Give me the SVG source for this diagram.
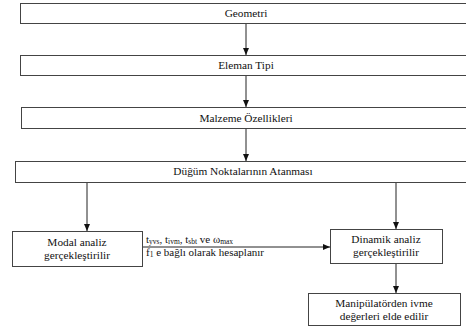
<svg xmlns="http://www.w3.org/2000/svg" width="466" height="331" viewBox="0 0 466 331">
<style>
.box{fill:#fff;stroke:#444;stroke-width:1}
.t{font-family:'Liberation Serif','Times New Roman','DejaVu Serif',serif;font-size:11.3px;fill:#111;text-anchor:middle}
.l{font-family:'Liberation Serif','Times New Roman','DejaVu Serif',serif;font-size:11px;fill:#111}
.s{font-size:7.5px}
.c{stroke:#222;stroke-width:1;fill:none;marker-end:url(#ah)}
</style>
<defs>
<marker id="ah" markerWidth="8" markerHeight="8" refX="7" refY="4" orient="auto" markerUnits="userSpaceOnUse">
<path d="M0,1 L7,4 L0,7 Z" fill="#111"/>
</marker>
</defs>
<rect width="466" height="331" fill="#fff"/>
<g id="connectors">
<line class="c" x1="246" y1="23" x2="246" y2="55"/>
<line class="c" x1="246" y1="75" x2="246" y2="107"/>
<line class="c" x1="246" y1="128" x2="246" y2="161"/>
<line class="c" x1="87" y1="182" x2="87" y2="231"/>
<line class="c" x1="396" y1="182" x2="396" y2="229"/>
<line class="c" x1="142" y1="247" x2="330" y2="247"/>
<line class="c" x1="396" y1="263" x2="396" y2="293"/>
<text class="l" x="146" y="243">t<tspan class="s" dy="1">yvs</tspan><tspan dy="-1">, t</tspan><tspan class="s" dy="1">ivm</tspan><tspan dy="-1">, t</tspan><tspan class="s" dy="1">sbt</tspan><tspan dy="-1"> ve ω</tspan><tspan class="s" dy="1">max</tspan></text>
<text class="l" x="146" y="256">f<tspan class="s" dy="1">1</tspan><tspan dy="-1"> e bağlı olarak hesaplanır</tspan></text>
</g>
<g id="n1"><rect class="box" x="20.5" y="3.5" width="450" height="20"/><text class="t" x="246" y="17">Geometri</text></g>
<g id="n2"><rect class="box" x="20.5" y="55.5" width="450" height="20"/><text class="t" x="246" y="69">Eleman Tipi</text></g>
<g id="n3"><rect class="box" x="21.5" y="107.5" width="450" height="21"/><text class="t" x="246" y="122">Malzeme Özellikleri</text></g>
<g id="n4"><rect class="box" x="15.5" y="161.5" width="455" height="21"/><text class="t" x="243" y="175">Düğüm Noktalarının Atanması</text></g>
<g id="n5"><rect class="box" x="12.5" y="231.5" width="130" height="35"/><text class="t" x="77" y="246">Modal analiz</text><text class="t" x="77" y="259">gerçekleştirilir</text></g>
<g id="n6"><rect class="box" x="330.5" y="229.5" width="112" height="34"/><text class="t" x="386" y="243">Dinamik analiz</text><text class="t" x="386" y="256">gerçekleştirilir</text></g>
<g id="n7"><rect class="box" x="308.5" y="293.5" width="152" height="32"/><text class="t" x="384" y="307">Manipülatörden ivme</text><text class="t" x="384" y="320">değerleri elde edilir</text></g>
</svg>
